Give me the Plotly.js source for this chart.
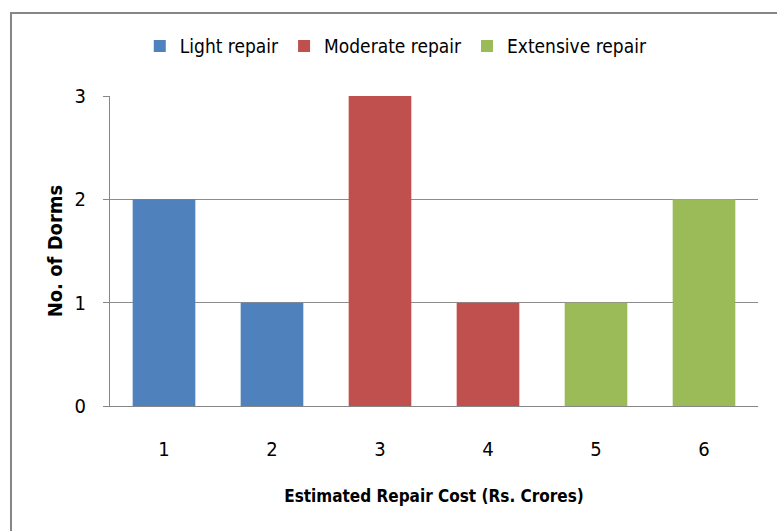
<!DOCTYPE html>
<html>
<head>
<meta charset="utf-8">
<script src="https://cdn.plot.ly/plotly-3.0.1.min.js"></script>
<style>
  html, body { margin: 0; padding: 0; background: #fff; }
  #chart { width: 777px; height: 531px; }
</style>
</head>
<body>
<div id="chart"></div>
<script>
const categories = ['1', '2', '3', '4', '5', '6'];
const lightX = ['1', '2'];
const lightY = [2, 1];
const moderateX = ['3', '4'];
const moderateY = [3, 1];
const extensiveX = ['5', '6'];
const extensiveY = [1, 2];
const yTicks = [0, 1, 2, 3];

const FONT = '"Liberation Sans Narrow", "DejaVu Sans Condensed", "Arial Narrow", sans-serif';

const traces = [
  { type: 'bar', name: 'Light repair', x: lightX, y: lightY, marker: { color: '#4F81BD' } },
  { type: 'bar', name: 'Moderate repair', x: moderateX, y: moderateY, marker: { color: '#C0504D' } },
  { type: 'bar', name: 'Extensive repair', x: extensiveX, y: extensiveY, marker: { color: '#9BBB59' } }
];

const layout = {
  width: 777,
  height: 531,
  margin: { l: 110, r: 19, t: 96, b: 125 },
  paper_bgcolor: '#ffffff',
  plot_bgcolor: '#ffffff',
  font: { family: FONT, size: 19, color: '#000' },
  barmode: 'overlay',
  bargap: 0.42,
  showlegend: true,
  legend: {
    orientation: 'h',
    x: 0.51, xanchor: 'center', xref: 'container',
    y: 0.913, yanchor: 'middle', yref: 'container',
    font: { family: FONT, size: 19, color: '#000' },
    itemwidth: 30,
    traceorder: 'normal'
  },
  xaxis: {
    type: 'category',
    categoryorder: 'array',
    categoryarray: categories,
    tickvals: categories,
    ticktext: categories,
    range: [-0.5, 5.5],
    showgrid: false,
    showline: true,
    linecolor: '#868686',
    linewidth: 1,
    ticks: '',
    ticklabelstandoff: 25,
    tickfont: { family: FONT, size: 20, color: '#000' },
    title: { text: '<b>Estimated Repair Cost (Rs. Crores)</b>', font: { family: FONT, size: 17, color: '#000' }, standoff: 30 },
    fixedrange: true
  },
  yaxis: {
    range: [0, 3],
    tickvals: yTicks,
    ticktext: yTicks.map(String),
    showgrid: true,
    gridcolor: '#8c8c8c',
    gridwidth: 1,
    zeroline: false,
    showline: true,
    linecolor: '#868686',
    linewidth: 1,
    ticks: 'outside',
    ticklen: 6,
    tickcolor: '#868686',
    ticklabelstandoff: 13,
    tickfont: { family: FONT, size: 20, color: '#000' },
    title: { text: '<b>No. of Dorms</b>', font: { family: FONT, size: 20, color: '#000' }, standoff: 6 },
    fixedrange: true
  },
  shapes: [
    {
      type: 'rect', xref: 'paper', yref: 'paper', layer: 'below',
      x0: -0.1528, x1: 1.2, y0: -0.6, y1: 1.2677,
      line: { color: '#868686', width: 2 }, fillcolor: 'rgba(0,0,0,0)'
    }
  ]
};

Plotly.newPlot('chart', traces, layout, { displayModeBar: false, staticPlot: true });
</script>
</body>
</html>
